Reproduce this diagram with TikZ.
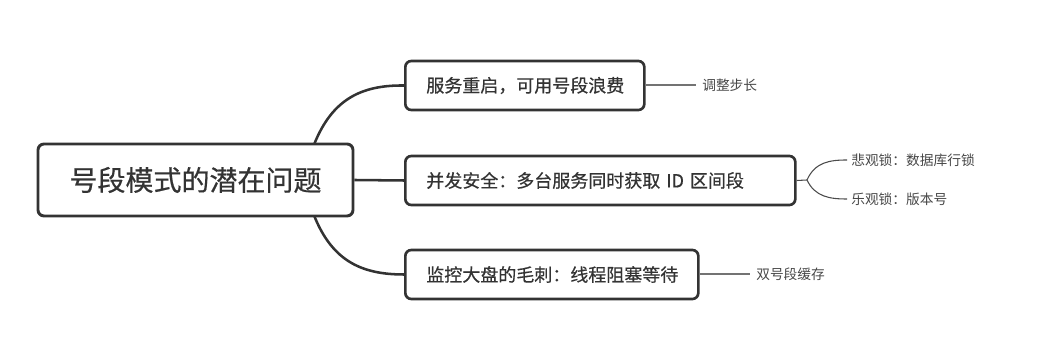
\documentclass[tikz,border=0pt]{standalone}
\usepackage{fontspec}
\setmainfont{Noto Sans CJK SC}
\newfontfamily\medfont{Noto Sans CJK SC}[FakeBold=0.5]
\begin{document}
\begin{tikzpicture}[x=0.75pt,y=-0.75pt,
  rootbox/.style={draw=black!80, line width=2.2pt, rounded corners=4.5pt, fill=white,
    text=black!80, font=\medfont\fontsize{21}{25}\selectfont, align=center,
    minimum width=236.25pt, minimum height=54pt, inner sep=0pt},
  topicbox/.style={draw=black!80, line width=2pt, rounded corners=4.5pt, fill=white,
    text=black!80, font=\medfont\fontsize{13.5}{16}\selectfont, align=left,
    minimum height=36.75pt, inner xsep=15.75pt, inner ysep=0pt, anchor=west},
  leaftext/.style={text=black!72, font=\fontsize{10.3}{12}\selectfont, inner sep=0pt, anchor=west},
  mainline/.style={draw=black!80, line width=1.9pt},
  leafline/.style={draw=black!55, line width=1pt},
  leafline2/.style={draw=black!70, line width=0.8pt}
]
\useasboundingbox (0,0) rectangle (1051,341);
\coordinate (rt) at (312,150);
\coordinate (rb) at (312,210);
\node[topicbox, text width=147.75pt] (t1) at (404,85.5) {服务重启，可用号段浪费};
\node[topicbox, text width=261pt] (t2) at (404,180.5) {并发安全：多台服务同时获取 ID 区间段};
\node[topicbox, text width=188.25pt] (t3) at (404,274.5) {监控大盘的毛刺：线程阻塞等待};
\draw[mainline] (rt) .. controls (330,100) and (360,85) .. (t1.west);
\draw[mainline] (rb) .. controls (330,260) and (360,274.5) .. (t3.west);
\node[rootbox] (root) at (195.5,180) {号段模式的潜在问题};
\draw[mainline] (root.east) -- (t2.west);
% leaves
\node[leaftext] (l1) at (702,85) {调整步长};
\node[leaftext] (l2) at (851,160) {悲观锁：数据库行锁};
\node[leaftext] (l3) at (851,199) {乐观锁：版本号};
\node[leaftext] (l4) at (756,274) {双号段缓存};
\draw[leafline] (t1.east |- l1.west) -- ([xshift=-4.5pt]l1.west);
\draw[leafline] (t3.east |- l4.west) -- ([xshift=-4.5pt]l4.west);
\coordinate (fork) at (807,180);
\draw[leafline2] (t2.east) -- (fork);
\draw[leafline2] (fork) .. controls (815,162) and (830,160) .. ([xshift=-3pt]l2.west);
\draw[leafline2] (fork) .. controls (815,197) and (830,199) .. ([xshift=-3pt]l3.west);
\end{tikzpicture}
\end{document}
